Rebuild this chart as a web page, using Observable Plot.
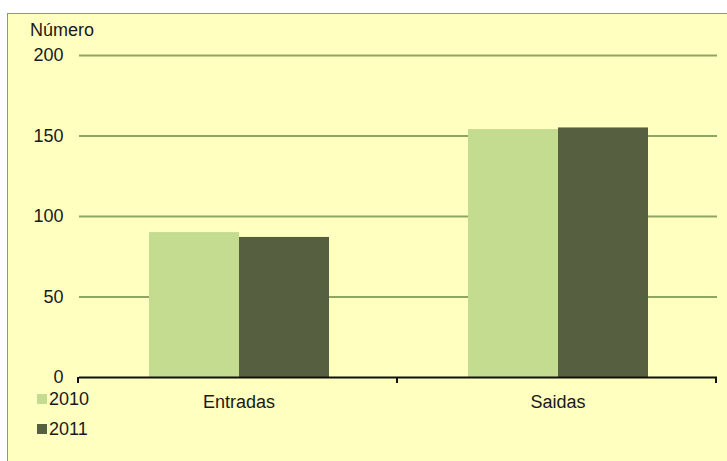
<!DOCTYPE html>
<html>
<head>
<meta charset="utf-8">
<script src="https://cdn.jsdelivr.net/npm/d3@7"></script>
<script src="https://cdn.jsdelivr.net/npm/@observablehq/plot@0.6"></script>
<style>
  html, body { margin: 0; padding: 0; background: #ffffff; width: 727px; height: 461px; overflow: hidden; }
  #panel { position: absolute; left: 7px; top: 13px; width: 720px; height: 448px; background: #FFFFC0;
           border-left: 1.5px solid #6F97CF; border-top: 1.5px solid #6F97CF; box-sizing: border-box; }
  #chart { position: absolute; left: 0; top: 0; }
  #ylabel { position: absolute; left: 30px; top: 21px; font: 18px "Liberation Sans", Arial, sans-serif; color: #1a1a1a; line-height: 1; }
  #legend { position: absolute; left: 37px; top: 384px; }
  .leg-swatches { font: 18px "Liberation Sans", Arial, sans-serif !important; color: #1a1a1a !important; }
  .leg-swatch { height: 30px !important; margin: 0 !important; padding: 0 !important; }
  .leg-swatch svg { margin-right: 2px !important; }
</style>
</head>
<body>
<div id="panel"></div>
<div id="chart"></div>
<div id="ylabel">Número</div>
<div id="legend"></div>
<script>
const categories = ["Entradas", "Saidas"];
const years = ["2010", "2011"];
const values2010 = [90, 154];
const values2011 = [87, 155];
const yTicks = [0, 50, 100, 150, 200];
const yearColors = ["#C3DC8F", "#566040"];
const gridColor = "#8EA664";

const data = categories.flatMap((c, i) => [
  {cat: c, year: years[0], value: values2010[i]},
  {cat: c, year: years[1], value: values2011[i]}
]);

const plot = Plot.plot({
  width: 727,
  height: 461,
  marginLeft: 78,
  marginRight: 10,
  marginTop: 55,
  marginBottom: 84,
  style: {background: "transparent", fontFamily: "'Liberation Sans', Arial, sans-serif", fontSize: "18px", color: "#1a1a1a"},
  fx: {domain: categories, padding: 0, label: null, axis: null},
  x: {domain: years, paddingInner: 0, paddingOuter: 0.755, axis: null},
  y: {domain: [0, 200], label: null},
  color: {domain: years, range: yearColors},
  marks: [
    Plot.ruleY(yTicks.filter(d => d > 0), {stroke: gridColor, strokeWidth: 2.2}),
    Plot.barY(data, {fx: "cat", x: "year", y: "value", fill: "year"}),
    Plot.ruleY([0], {stroke: "#111111", strokeWidth: 2}),
    Plot.axisY(yTicks, {tickSize: 0, tickPadding: 16, label: null, fontSize: 18}),
    Plot.axisFx({anchor: "bottom", tickSize: 0, tickPadding: 18, label: null, fontSize: 18})
  ]
});
document.getElementById("chart").appendChild(plot);

// tick marks at the category band edges on the baseline (Excel-style)
const fxs = plot.scale("fx");
const ys = plot.scale("y");
const y0 = d3.scaleLinear(ys.domain, ys.range)(0);
const edges = d3.range(categories.length + 1).map(i => fxs.range[0] + i * fxs.step);
d3.select(plot).append("g")
  .selectAll("line").data(edges).join("line")
  .attr("x1", d => d).attr("x2", d => d)
  .attr("y1", y0).attr("y2", y0 + 6)
  .attr("stroke", "#111111").attr("stroke-width", 2);

const leg = Plot.legend({
  color: {domain: years, range: yearColors},
  legend: "swatches",
  columns: 1,
  swatchSize: 10,
  className: "leg"
});
document.getElementById("legend").appendChild(leg);
</script>
</body>
</html>
